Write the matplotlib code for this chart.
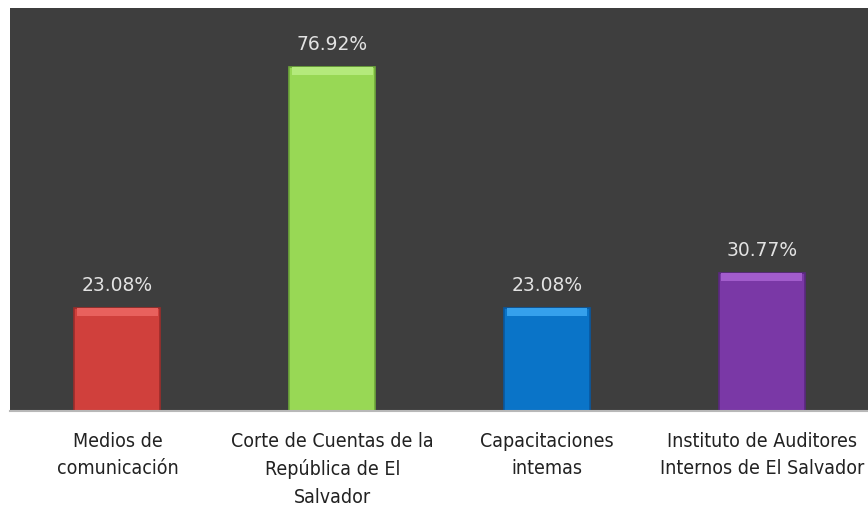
import matplotlib.pyplot as plt
import numpy as np
from matplotlib import font_manager

categorias = ['Medios de\ncomunicación',
              'Corte de Cuentas de la\nRepública de El\nSalvador',
              'Capacitaciones\nintemas',
              'Instituto de Auditores\nInternos de El Salvador']
valores = [23.08, 76.92, 23.08, 30.77]
colores = ['#d0403c', '#98d855', '#0a74c8', '#7a38a6']
claros = ['#e8615d', '#b4ea7c', '#35a0ec', '#a25ccc']
oscuros = ['#9c2c2a', '#6ea83a', '#0858a0', '#5a2880']

# buscar una fuente estrecha (tipo Arial Narrow) si existe
estrechas = [f for f in font_manager.fontManager.ttflist
             if ('Narrow' in f.name or 'Condensed' in f.name
                 or f.stretch in ('condensed', 'semi-condensed'))
             and f.weight in (400, 'normal', 'regular') and f.style == 'normal']
if estrechas:
    fp_cat = font_manager.FontProperties(fname=estrechas[0].fname, size=14)
else:
    fp_cat = font_manager.FontProperties(family='Liberation Sans', size=13)

fig = plt.figure(figsize=(8.68, 5.10), dpi=100)
ax = fig.add_axes([0.0115, 0.192, 0.99, 0.79])
ax.set_facecolor('#3e3e3e')

x = np.arange(len(valores))
ancho = 0.40
ax.bar(x, valores, width=ancho, color=colores, edgecolor=oscuros, linewidth=1.2, zorder=2)
# franja clara arriba (efecto biselado)
ax.bar(x, [1.8] * len(valores), bottom=np.array(valores) - 1.8, width=ancho * 0.94,
       color=claros, linewidth=0, zorder=3)

for xi, v in zip(x, valores):
    ax.text(xi, v + 3.1, f'{v:.2f}%', ha='center', va='bottom', color='#e2e2e2',
            fontsize=13.5, family='DejaVu Sans')

ax.set_xlim(-0.5, 3.5)
ax.set_ylim(0, 90)
ax.set_yticks([])
ax.set_xticks(x)
ax.set_xticklabels(categorias, fontproperties=fp_cat, color='#222222',
                   linespacing=1.55)
ax.tick_params(axis='x', length=0, pad=14)
for s in ['top', 'right', 'left']:
    ax.spines[s].set_visible(False)
ax.spines['bottom'].set_color('#b8b8b8')
ax.spines['bottom'].set_linewidth(1.5)

fig.savefig('out.png', dpi=100)
